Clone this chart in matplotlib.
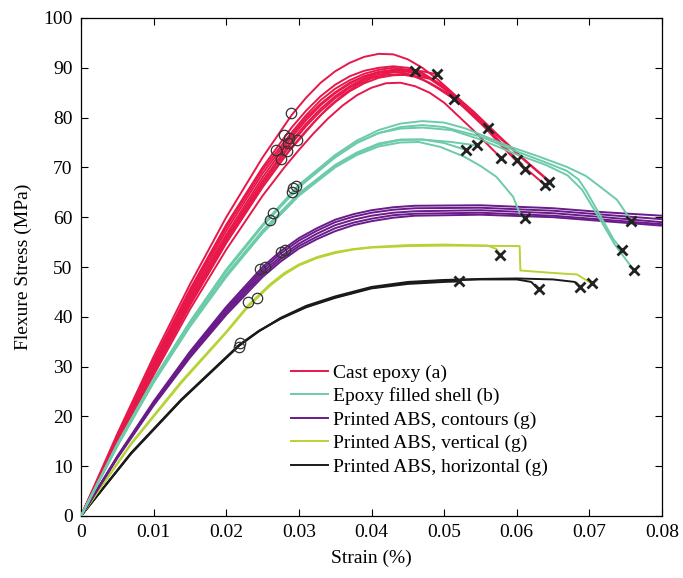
import numpy as np
import matplotlib
matplotlib.use("Agg")
import matplotlib.pyplot as plt

plt.rcParams['font.family'] = ['Liberation Serif', 'DejaVu Serif']

# colours of the five materials
red = '#e8174a'
green = '#6ccba8'
purple = '#6a1b8a'
lime = '#b5d334'
black = '#1a1a1a'

# curves: each curve is a list of (strain, stress) points
cast_epoxy = [
    [(0, 0), (0.005, 16.5), (0.01, 32), (0.015, 46.5), (0.02, 60), (0.025, 72), (0.029, 80.5), (0.031, 84),
     (0.033, 87), (0.035, 89.3), (0.037, 91), (0.039, 92.2), (0.041, 92.8), (0.043, 92.7), (0.045, 91.7),
     (0.047, 90), (0.049, 87.8), (0.051, 85.2), (0.053, 82.5), (0.057, 76.8), (0.061, 71.5), (0.0645, 67.1)],
    [(0, 0), (0.005, 15.8), (0.01, 31), (0.015, 45), (0.02, 58), (0.025, 69.5), (0.029, 77), (0.031, 80.5),
     (0.033, 83.5), (0.035, 85.8), (0.037, 87.5), (0.039, 88.8), (0.041, 89.6), (0.043, 90), (0.046, 89.4)],
    [(0, 0), (0.005, 15.3), (0.01, 30), (0.015, 44), (0.02, 56.5), (0.025, 68), (0.029, 76), (0.031, 79.5),
     (0.033, 82.5), (0.035, 84.9), (0.037, 86.8), (0.039, 88.3), (0.041, 89.2), (0.043, 89.6), (0.045, 89.6),
     (0.047, 89.3), (0.049, 88.7)],
    [(0, 0), (0.005, 15.6), (0.01, 30.5), (0.015, 44.5), (0.02, 57.3), (0.025, 68.8), (0.029, 76.5), (0.031, 80),
     (0.033, 82.8), (0.035, 85.1), (0.037, 87), (0.039, 88.3), (0.041, 89), (0.043, 89.2), (0.045, 88.8),
     (0.047, 87.7), (0.049, 86), (0.0514, 83.7)],
    [(0, 0), (0.005, 14.8), (0.01, 29), (0.015, 42.5), (0.02, 55), (0.025, 66.3), (0.028, 72.2), (0.03, 75.5),
     (0.032, 78.9), (0.034, 82), (0.036, 84.5), (0.038, 86.5), (0.04, 87.9), (0.042, 88.6), (0.044, 88.7),
     (0.046, 88.2), (0.048, 87), (0.05, 85.3), (0.053, 81.8), (0.0561, 78)],
    [(0, 0), (0.005, 14.5), (0.01, 28.3), (0.015, 41.5), (0.02, 53.5), (0.025, 64.3), (0.028, 70), (0.03, 73.5),
     (0.032, 76.8), (0.034, 79.8), (0.036, 82.4), (0.038, 84.5), (0.04, 86), (0.042, 86.9), (0.044, 87),
     (0.046, 86.3), (0.048, 85), (0.05, 83), (0.054, 77.5), (0.0579, 71.8)],
    [(0, 0), (0.005, 15.2), (0.01, 29.8), (0.015, 43.5), (0.02, 56), (0.025, 67.3), (0.029, 75.3), (0.031, 78.8),
     (0.033, 81.8), (0.035, 84.3), (0.037, 86.3), (0.039, 87.9), (0.041, 89), (0.043, 89.5), (0.045, 89.4),
     (0.047, 88.8), (0.05, 86.3), (0.054, 81), (0.057, 76.3), (0.06, 71.5)],
    [(0, 0), (0.005, 15), (0.01, 29.3), (0.015, 43), (0.02, 55.5), (0.025, 66.8), (0.029, 74.8), (0.031, 78.3),
     (0.033, 81.3), (0.035, 83.9), (0.037, 86), (0.039, 87.6), (0.041, 88.6), (0.043, 89.1), (0.045, 89.2),
     (0.048, 88), (0.051, 84.8), (0.055, 79), (0.058, 74.2), (0.0611, 69.6)],
    [(0, 0), (0.005, 14.7), (0.01, 28.8), (0.015, 42.3), (0.02, 54.8), (0.025, 66), (0.029, 74), (0.031, 77.4),
     (0.033, 80.5), (0.035, 83.1), (0.037, 85.3), (0.039, 86.9), (0.041, 88), (0.043, 88.5), (0.045, 88.6),
     (0.048, 87.8), (0.05, 85.8), (0.052, 83), (0.056, 77.5), (0.06, 71.3), (0.0639, 66.5)],
    [(0, 0), (0.005, 16), (0.01, 31.3), (0.015, 45.5), (0.02, 58.5), (0.025, 70), (0.029, 78), (0.031, 81.4),
     (0.033, 84.3), (0.035, 86.6), (0.037, 88.3), (0.039, 89.4), (0.041, 90), (0.043, 90.3), (0.045, 90),
     (0.047, 89), (0.05, 86.2), (0.054, 81.3), (0.058, 75.7), (0.0615, 71), (0.0647, 67)],
]

epoxy_shell = [
    [(0, 0), (0.005, 14.5), (0.01, 27.5), (0.015, 39), (0.02, 49.5), (0.025, 58.5), (0.03, 66.5), (0.035, 72.5),
     (0.038, 75.4), (0.041, 77.5), (0.044, 78.8), (0.047, 79.3), (0.05, 79), (0.053, 77.8), (0.056, 76),
     (0.059, 74.2), (0.063, 72.2), (0.0669, 70.1), (0.0695, 68.3), (0.0715, 66.1), (0.0738, 63.5), (0.0758, 59.2)],
    [(0, 0), (0.005, 14.3), (0.01, 27.3), (0.015, 38.8), (0.02, 49.2), (0.025, 58.2), (0.03, 66), (0.035, 72),
     (0.038, 74.9), (0.041, 76.9), (0.044, 78.1), (0.047, 78.5), (0.05, 78.1), (0.055, 76.2), (0.06, 73.2),
     (0.064, 71), (0.0669, 69.3), (0.0685, 67.6), (0.0696, 65.2), (0.0715, 60.3), (0.0733, 55.6), (0.0745, 53.4)],
    [(0, 0), (0.005, 14.4), (0.01, 27.4), (0.015, 38.9), (0.02, 49.3), (0.025, 58.3), (0.03, 66.2), (0.035, 72.2),
     (0.038, 75), (0.041, 76.9), (0.044, 77.8), (0.047, 78), (0.051, 77.5), (0.055, 75.6), (0.06, 72.6),
     (0.064, 70.5), (0.067, 68.4), (0.069, 65.5), (0.0715, 59.5), (0.0735, 54.5), (0.0761, 49.4)],
    [(0, 0), (0.005, 14.2), (0.01, 27), (0.015, 38.3), (0.02, 48.5), (0.025, 57.3), (0.03, 64.8), (0.035, 70.5),
     (0.038, 73), (0.041, 74.8), (0.044, 75.6), (0.047, 75.6), (0.05, 74.9), (0.053, 73.5)],
    [(0, 0), (0.005, 14.1), (0.01, 26.9), (0.015, 38.2), (0.02, 48.3), (0.025, 57), (0.03, 64.5), (0.035, 70.3),
     (0.038, 72.8), (0.041, 74.6), (0.044, 75.5), (0.047, 75.6), (0.051, 75.1), (0.0545, 74.4)],
    [(0, 0), (0.005, 14), (0.01, 26.8), (0.015, 38), (0.02, 48), (0.025, 56.8), (0.03, 64.3), (0.035, 70),
     (0.038, 72.5), (0.041, 74.2), (0.044, 75), (0.0465, 75.1), (0.0495, 74.1), (0.0527, 72.2), (0.055, 70.3),
     (0.0572, 68.1), (0.0595, 64.1), (0.0604, 60.8), (0.0611, 59.8)],
]

abs_contours = [
    [(0, 0), (0.005, 12), (0.01, 23), (0.015, 33), (0.02, 42), (0.025, 50), (0.0275, 53.2), (0.03, 55.8),
     (0.0325, 57.8), (0.035, 59.5), (0.0375, 60.6), (0.04, 61.4), (0.043, 62), (0.046, 62.3), (0.055, 62.4),
     (0.065, 61.8), (0.072, 61), (0.08, 60.3)],
    [(0, 0), (0.005, 11.9), (0.01, 22.8), (0.015, 32.7), (0.02, 41.6), (0.025, 49.5), (0.0275, 52.7), (0.03, 55.3),
     (0.0325, 57.3), (0.035, 59), (0.0375, 60.1), (0.04, 60.9), (0.043, 61.5), (0.046, 61.8), (0.055, 61.9),
     (0.065, 61.3), (0.072, 60.5), (0.08, 59.6)],
    [(0, 0), (0.005, 11.8), (0.01, 22.6), (0.015, 32.4), (0.02, 41.2), (0.025, 49), (0.0275, 52.1), (0.03, 54.7),
     (0.0325, 56.7), (0.035, 58.4), (0.0375, 59.5), (0.04, 60.3), (0.043, 60.9), (0.046, 61.2), (0.055, 61.4),
     (0.065, 60.8), (0.072, 60), (0.08, 59)],
    [(0, 0), (0.005, 11.7), (0.01, 22.4), (0.015, 32.1), (0.02, 40.8), (0.025, 48.5), (0.0275, 51.6), (0.03, 54.2),
     (0.0325, 56.1), (0.035, 57.8), (0.0375, 58.9), (0.04, 59.7), (0.043, 60.4), (0.046, 60.7), (0.055, 60.9),
     (0.065, 60.3), (0.072, 59.5), (0.08, 58.6)],
    [(0, 0), (0.005, 11.6), (0.01, 22.2), (0.015, 31.8), (0.02, 40.4), (0.025, 48), (0.0275, 51.1), (0.03, 53.7),
     (0.0325, 55.6), (0.035, 57.2), (0.0375, 58.4), (0.04, 59.2), (0.043, 59.9), (0.046, 60.3), (0.055, 60.5),
     (0.065, 60), (0.072, 59.2), (0.08, 58.3)],
]

abs_vertical = [
    [(0, 0), (0.0069, 14.6), (0.0138, 27), (0.02, 37), (0.023, 42.3), (0.026, 46.5), (0.028, 48.8), (0.03, 50.5),
     (0.0325, 52), (0.035, 53), (0.0375, 53.6), (0.04, 54), (0.045, 54.4), (0.05, 54.5), (0.056, 54.3),
     (0.0572, 53.6), (0.0577, 52.4)],
    [(0, 0), (0.0069, 14.4), (0.0138, 26.7), (0.02, 36.8), (0.023, 42), (0.026, 46.2), (0.028, 48.5), (0.03, 50.3),
     (0.0325, 51.8), (0.035, 52.8), (0.0375, 53.5), (0.04, 53.9), (0.045, 54.2), (0.05, 54.3), (0.0604, 54.2),
     (0.0605, 49.3), (0.065, 48.8), (0.0683, 48.5), (0.0703, 46.7)],
]

abs_horizontal = [
    [(0, 0), (0.0069, 12.6), (0.0138, 23.3), (0.0218, 34.3), (0.0245, 37.1), (0.0275, 39.7), (0.031, 42),
     (0.035, 43.9), (0.04, 45.8), (0.045, 46.8), (0.05, 47.3), (0.055, 47.5), (0.06, 47.5), (0.062, 47),
     (0.063, 45.5)],
    [(0, 0), (0.0069, 12.5), (0.0138, 23.2), (0.0218, 34.2), (0.0245, 37.1), (0.0275, 39.8), (0.031, 42.2),
     (0.035, 44.1), (0.04, 46), (0.045, 47), (0.05, 47.4), (0.055, 47.6), (0.06, 47.7), (0.065, 47.5),
     (0.068, 47), (0.0687, 46)],
    [(0, 0), (0.0069, 12.7), (0.0138, 23.4), (0.0218, 34.4), (0.0245, 37.2), (0.0275, 39.6), (0.031, 41.9),
     (0.035, 43.8), (0.04, 45.7), (0.045, 46.6), (0.05, 47), (0.052, 47.1)],
]

# failure points (x markers)
fail_strain = [0.046, 0.049, 0.0514, 0.0561, 0.0579, 0.060, 0.0611, 0.0639, 0.0645,
               0.053, 0.0545, 0.0611, 0.0745, 0.0761, 0.0758,
               0.0577, 0.0703, 0.052, 0.063, 0.0687]
fail_stress = [89.4, 88.7, 83.7, 78.0, 71.8, 71.5, 69.6, 66.5, 67.1,
               73.5, 74.4, 59.8, 53.4, 49.4, 59.2,
               52.4, 46.7, 47.1, 45.5, 46.0]

# circled points
circ_strain = [0.0289, 0.0279, 0.0297, 0.0285, 0.0269, 0.0283, 0.0276, 0.0287,
               0.0292, 0.0296, 0.029, 0.0265, 0.026,
               0.0281, 0.0276, 0.0253, 0.0246,
               0.023, 0.0242, 0.0219, 0.0217]
circ_stress = [81, 76.5, 75.5, 74.8, 73.5, 73.2, 71.7, 76.0,
               65.8, 66.3, 65.0, 60.8, 59.4,
               53.4, 53.1, 50.1, 49.6,
               43.0, 43.7, 34.7, 34.0]

groups = [
    ('Cast epoxy (a)', cast_epoxy, red),
    ('Epoxy filled shell (b)', epoxy_shell, green),
    ('Printed ABS, contours (g)', abs_contours, purple),
    ('Printed ABS, vertical (g)', abs_vertical, lime),
    ('Printed ABS, horizontal (g)', abs_horizontal, black),
]

fig = plt.figure(figsize=(6.83, 5.78), dpi=100)
ax = fig.add_axes([81 / 683, 62 / 578, 581 / 683, 498 / 578])

handles = []
for i, (name, curves, col) in enumerate(groups):
    z = 10 - i
    if col == green:
        z = 12
    for k, c in enumerate(curves):
        pts = np.array(c)
        ln, = ax.plot(pts[:, 0], pts[:, 1], color=col, lw=1.4, zorder=z)
        if k == 0:
            ln.set_label(name)
            handles.append(ln)

ax.plot(circ_strain, circ_stress, 'o', mfc='none', mec='#333333', ms=7.5, mew=0.9, zorder=20)
ax.plot(fail_strain, fail_stress, 'x', color='#222222', ms=7, mew=2, zorder=21)

ax.set_xlim(0, 0.08)
ax.set_ylim(0, 100)
xt = [0, 0.01, 0.02, 0.03, 0.04, 0.05, 0.06, 0.07, 0.08]
xl = ['0', '0.01', '0.02', '0.03', '0.04', '0.05', '0.06', '0.07', '0.08']
ax.set_xticks(xt)
ax.set_xticklabels(xl)
ax.set_yticks(range(0, 101, 10))
ax.tick_params(direction='in', length=5, width=0.8, labelsize=14, top=True, right=True, pad=6)
for s in ax.spines.values():
    s.set_linewidth(0.9)

ax.set_xlabel('Strain (%)', fontsize=14, labelpad=6)
ax.set_ylabel('Flexure Stress (MPa)', fontsize=14, labelpad=8)

ax.legend(handles=handles, loc='upper left', bbox_to_anchor=(0.345, 0.325), frameon=False,
          fontsize=14, handlelength=1.9, handletextpad=0.25, labelspacing=0.3, borderpad=0)

fig.savefig('out.png', dpi=100)
